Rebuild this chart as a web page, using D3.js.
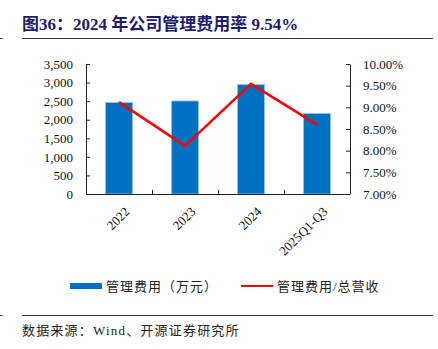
<!DOCTYPE html>
<html>
<head>
<meta charset="utf-8">
<script src="https://cdn.jsdelivr.net/npm/d3@7"></script>
<style>
  body { margin: 0; background: #fff; }
  text { font-family: "Liberation Serif", "Noto Sans CJK SC", serif; }
</style>
</head>
<body>
<script>
var years = ["2022", "2023", "2024", "2025Q1-Q3"];
var adminCost = [2465, 2505, 2945, 2165];      // 管理费用（万元）
var costRatio = [9.12, 8.11, 9.54, 8.60];      // 管理费用/总营收 (%)
var leftTicks = [0, 500, 1000, 1500, 2000, 2500, 3000, 3500];
var rightTicks = [7, 7.5, 8, 8.5, 9, 9.5, 10];

var W = 438, H = 349;

var svg = d3.select("body").append("svg")
  .attr("width", W).attr("height", H);

// title and rules
svg.append("text")
  .attr("x", 22).attr("y", 30)
  .attr("fill", "#1c1c6c")
  .attr("font-size", 17).attr("font-weight", "bold")
  .text("图36：2024 年公司管理费用率 9.54%");

[38.5, 315.5].forEach(function(yy) {
  svg.append("line").attr("x1", 22).attr("x2", 433).attr("y1", yy).attr("y2", yy)
    .attr("stroke", "#333").attr("stroke-width", 1);
  svg.append("line").attr("x1", 0).attr("x2", 3).attr("y1", yy).attr("y2", yy)
    .attr("stroke", "#555").attr("stroke-width", 1);
});

svg.append("text")
  .attr("x", 22).attr("y", 335)
  .attr("fill", "#222").attr("font-size", 13).attr("letter-spacing", 1.2)
  .text("数据来源：Wind、开源证券研究所");

var x0 = 86, x1 = 350, yTop = 64, yBot = 194;

var x = d3.scaleBand().domain(years).range([x0, x1]).padding(0);
var y = d3.scaleLinear().domain([0, 3500]).range([yBot, yTop]);
var y2 = d3.scaleLinear().domain([7, 10]).range([yBot, yTop]);

var g = svg.append("g");

// bars
var barW = x.bandwidth() * 0.41;
g.selectAll(".bar")
  .data(adminCost)
  .enter().append("rect")
    .attr("class", "bar")
    .attr("x", function(d, i) { return x(years[i]) + x.bandwidth() / 2 - barW / 2; })
    .attr("y", function(d) { return y(d); })
    .attr("width", barW)
    .attr("height", function(d) { return yBot - y(d); })
    .attr("fill", "#0070c0")
    .attr("stroke", "#9cc3e6")
    .attr("stroke-width", 0.8);

// left axis
var axL = svg.append("g")
  .attr("transform", "translate(" + x0 + ",0)")
  .call(d3.axisLeft(y).tickValues(leftTicks).tickSizeInner(-4).tickSizeOuter(0)
    .tickPadding(13).tickFormat(d3.format(",")));

// right axis
var axR = svg.append("g")
  .attr("transform", "translate(" + x1 + ",0)")
  .call(d3.axisRight(y2).tickValues(rightTicks).tickSizeInner(-4).tickSizeOuter(0)
    .tickPadding(13).tickFormat(function(d) { return d.toFixed(2) + "%"; }));

[axL, axR].forEach(function(a) {
  a.select(".domain").attr("stroke", "#222");
  a.selectAll(".tick line").attr("stroke", "#222");
  a.selectAll("text").attr("font-size", 13).attr("fill", "#111")
    .style("font-family", "'Liberation Serif', serif");
});

// bottom axis: ticks between categories
svg.append("line")
  .attr("x1", x0).attr("x2", x1).attr("y1", yBot + 0.5).attr("y2", yBot + 0.5)
  .attr("stroke", "#222");
svg.selectAll(".xtick")
  .data(years.slice(1))
  .enter().append("line")
    .attr("class", "xtick")
    .attr("x1", function(d) { return x(d) + 0.5; })
    .attr("x2", function(d) { return x(d) + 0.5; })
    .attr("y1", yBot).attr("y2", yBot - 4)
    .attr("stroke", "#222");

svg.selectAll(".xlabel")
  .data(years)
  .enter().append("text")
    .attr("class", "xlabel")
    .attr("transform", function(d) {
      return "translate(" + (x(d) + x.bandwidth() / 2 + 5) + "," + (yBot + 12) + ") rotate(-45)";
    })
    .attr("text-anchor", "end")
    .attr("dy", "0.7em")
    .attr("font-size", 13).attr("fill", "#111")
    .style("font-family", "'Liberation Serif', serif")
    .text(function(d) { return d; });

// ratio line
var line = d3.line()
  .x(function(d, i) { return x(years[i]) + x.bandwidth() / 2; })
  .y(function(d) { return y2(d); });

svg.append("path")
  .datum(costRatio)
  .attr("d", line)
  .attr("fill", "none")
  .attr("stroke", "#ff0000")
  .attr("stroke-width", 2.5);

// legend
var leg = svg.append("g").attr("font-size", 13).attr("fill", "#222")
  .attr("letter-spacing", 1);
leg.append("rect").attr("x", 70).attr("y", 283).attr("width", 32).attr("height", 6)
  .attr("fill", "#0070c0");
leg.append("text").attr("x", 106).attr("y", 291).text("管理费用（万元）");
leg.append("line").attr("x1", 241).attr("x2", 273).attr("y1", 286).attr("y2", 286)
  .attr("stroke", "#ff0000").attr("stroke-width", 2);
leg.append("text").attr("x", 277).attr("y", 291).text("管理费用/总营收");
</script>
</body>
</html>
